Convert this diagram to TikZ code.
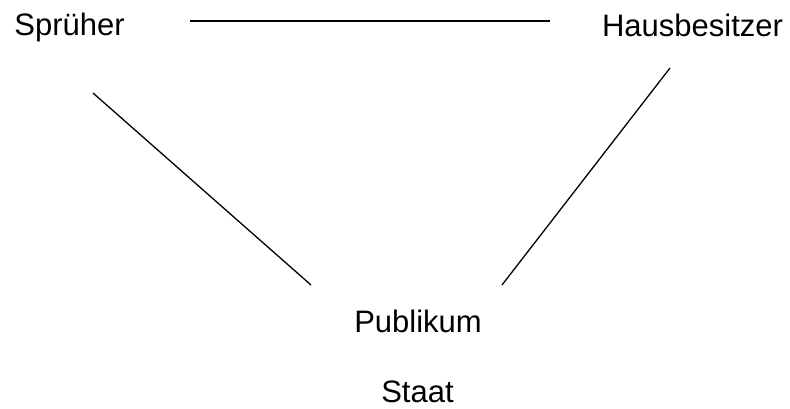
\documentclass[tikz,border=0pt]{standalone}
\usepackage{fontspec}
\setmainfont{Liberation Sans}
\usepackage{tikz}

\begin{document}
\begin{tikzpicture}[x=1pt,y=-1pt,
        akteur/.style={inner sep=0pt, anchor=base, font=\fontsize{31}{37}\selectfont},
        beziehung/.style={line width=1.3pt}]
            \useasboundingbox (0,0) rectangle (790,408);
            % Akteure
            \node[akteur] (spruher) at (69.5,35) {Sprüher};
            \node[akteur] (hausbesitzer) at (692.5,36) {Hausbesitzer};
            \node[akteur] (publikum) at (418,332) {Publikum};
            \node[akteur] (staat) at (417.5,402) {Staat};
            % Endpunkte der Linien
            \coordinate (sh1) at (190,21);
            \coordinate (sh2) at (550,21);
            \coordinate (sp1) at (93,93);
            \coordinate (sp2) at (311,285);
            \coordinate (hp1) at (670,68);
            \coordinate (hp2) at (502,285);
            \draw[beziehung] (sh1) -- (sh2);
            \draw[beziehung] (sp1) -- (sp2);
            \draw[beziehung] (hp1) -- (hp2);
        \end{tikzpicture}
\end{document}
